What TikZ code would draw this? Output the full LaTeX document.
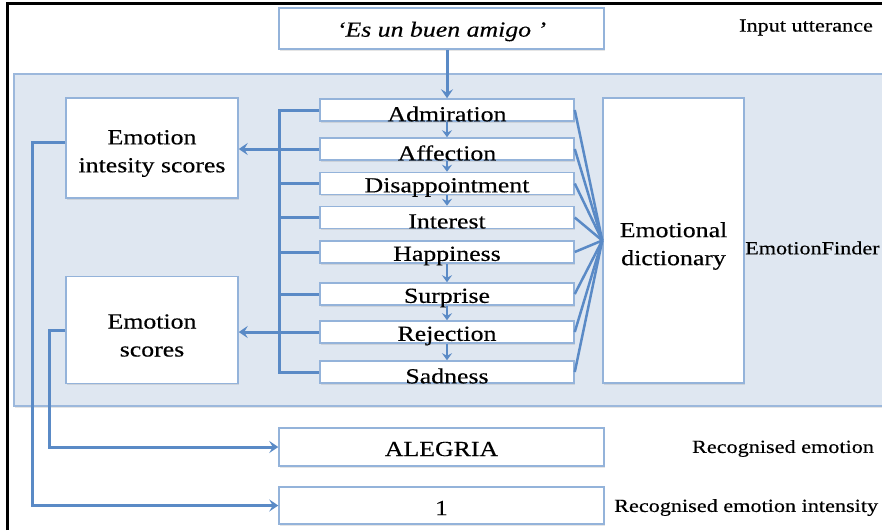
\documentclass[tikz,border=0pt]{standalone}
\usepackage{fontspec}
\setmainfont{Liberation Serif}[FakeStretch=1.2,FakeBold=0.35]
\usetikzlibrary{arrows.meta,shadows}
\definecolor{conn}{HTML}{5A8AC6}
\definecolor{boxline}{HTML}{94B3DA}
\definecolor{panelfill}{HTML}{DFE7F1}
\definecolor{panelline}{HTML}{9CB8DC}
\newcommand\lowtext[2][4pt]{\raisebox{-#1}[\height][\depth]{#2}}
\tikzset{
  mainfont/.style={font=\fontsize{21.5}{28}\selectfont},
  sidefont/.style={font=\fontsize{18.5}{22}\selectfont},
  wbox/.style={draw=boxline, line width=1.5pt, fill=white, inner sep=0pt, align=center, mainfont,
    drop shadow={opacity=0.2, shadow xshift=1pt, shadow yshift=-1.5pt}},
  ebox/.style={wbox, minimum width=254pt, minimum height=22pt},
  connline/.style={draw=conn, line width=3pt},
  arr/.style={connline, -{Stealth[length=9pt,width=12pt,inset=3.5pt]}},
  sarr/.style={draw=conn, line width=2pt, -{Stealth[length=7pt,width=10pt,inset=2.5pt]}},
  sidelabel/.style={sidefont, inner sep=0pt}
}
\begin{document}
\begin{tikzpicture}[x=1pt,y=-1pt]
\useasboundingbox (0,0) rectangle (882,530);
\fill[white] (0,0) rectangle (882,530);
% black frame (top and left)
\draw[black, line width=3pt] (7.5,530) -- (7.5,3.5) -- (882,3.5);
% panel
\node[draw=panelline, fill=panelfill, line width=1.5pt, minimum width=876pt, minimum height=332pt, inner sep=0pt,
  drop shadow={opacity=0.2, shadow xshift=1pt, shadow yshift=-1.5pt}] (panel) at (452,240) {};
% input
\node[wbox, minimum width=325pt, minimum height=41pt] (inp) at (441.5,28.5) {\lowtext[3pt]{\itshape ‘Es un buen amigo ’}};
\node[sidelabel] (inlab) at (806,27.5) {Input utterance};
% left boxes
\node[wbox, minimum width=172pt, minimum height=100pt] (eis) at (152,148) {\lowtext[5.5pt]{Emotion}\\\lowtext[5.5pt]{intesity scores}};
\node[wbox, minimum width=172pt, minimum height=107pt] (es) at (152,330) {\lowtext[5.5pt]{Emotion}\\\lowtext[5.5pt]{scores}};
% dictionary
\node[wbox, minimum width=141pt, minimum height=285pt] (dict) at (673.5,240.5) {\lowtext[5.5pt]{Emotional}\\\lowtext[5.5pt]{dictionary}};
\node[sidelabel, anchor=west] (eflab) at (745,248) {EmotionFinder};
% emotion boxes
\node[ebox] (adm) at (447,110) {\lowtext{Admiration}};
\node[ebox] (aff) at (447,149) {\lowtext{Affection}};
\node[ebox] (dis) at (447,183.5) {\lowtext{Disappointment}};
\node[ebox] (int) at (447,217.5) {\lowtext{Interest}};
\node[ebox] (hap) at (447,252) {\lowtext{Happiness}};
\node[ebox] (sur) at (447,294) {\lowtext{Surprise}};
\node[ebox] (rej) at (447,332) {\lowtext{Rejection}};
\node[ebox] (sad) at (447,372) {\lowtext{Sadness}};
% outputs
\node[wbox, minimum width=325pt, minimum height=38pt] (aleg) at (441.5,447) {\lowtext[2pt]{ALEGRIA}};
\node[wbox, minimum width=325pt, minimum height=37pt] (one) at (441.5,505.5) {\lowtext[2.5pt]{1}};
\node[sidelabel] (relab) at (783,448.5) {Recognised emotion};
\node[sidelabel, anchor=west] (rilab) at (614,507.5) {Recognised emotion intensity};
% input arrow
\draw[arr] (inp.south -| adm.north) -- (adm.north);
% chain arrows
\foreach \a/\b in {adm/aff, aff/dis, dis/int, hap/sur, sur/rej, rej/sad}
  \draw[sarr] (\a.south) -- (\b.north);
% bus
\coordinate (bustop) at ([xshift=-40pt]adm.west);
\draw[connline] (adm.west) -- (bustop) |- (sad.west);
\foreach \n in {aff, dis, int, hap, sur, rej}
  \draw[connline] (\n.west) -- (\n.west -| bustop);
\draw[arr] (aff.west -| bustop) -- (aff.west -| eis.east);
\draw[arr] (rej.west -| bustop) -- (rej.west -| es.east);
% to dictionary
\foreach \n in {adm, aff, dis, int, hap, sur, rej, sad}
  \draw[draw=conn, line width=2.5pt] (\n.east) -- (dict.west);
% outputs
\draw[arr] ([yshift=6pt]eis.west) -- ++(-33,0) |- (one.west);
\draw[arr] (es.west) -- ++(-16,0) |- (aleg.west);
\end{tikzpicture}
\end{document}
